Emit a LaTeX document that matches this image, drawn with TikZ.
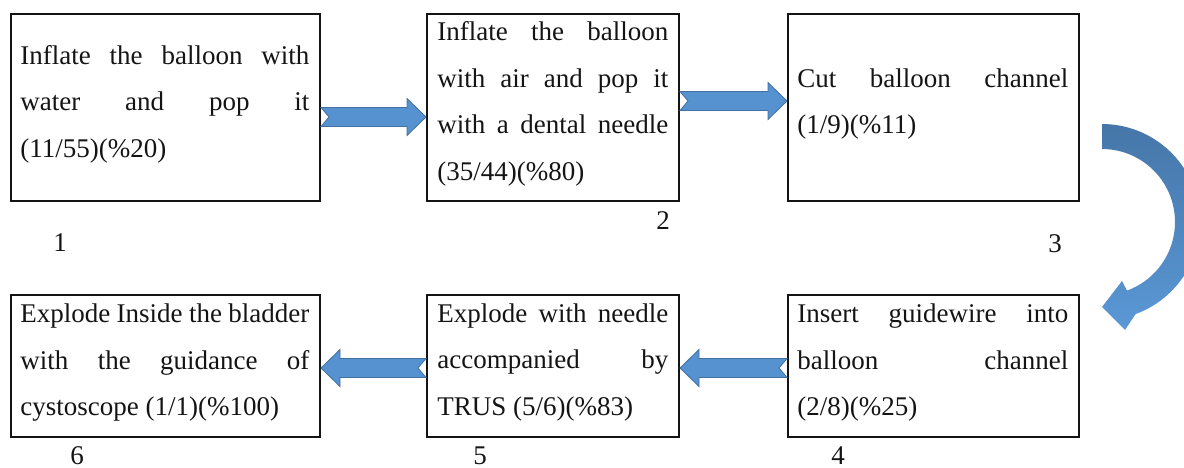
\documentclass[tikz,border=0pt]{standalone}
\usepackage{fontspec}
\setmainfont{Liberation Serif}
\usetikzlibrary{calc}

\definecolor{arrowfill}{RGB}{86,145,208}
\definecolor{arrowline}{RGB}{66,112,160}
\definecolor{curvetop}{RGB}{70,118,168}
\definecolor{curvebottom}{RGB}{90,152,214}
\definecolor{ink}{RGB}{20,20,20}

% one fully justified line of a step description
\newcommand\jline[1]{\makebox[\linewidth][s]{#1}\\}

% horizontal block arrow with a notched tail, from one anchor to another
\newcommand\blockarrow[2]{%
  \draw[flowarrow] let \p1=(#1), \p2=(#2),
      \n1={(\x2-\x1)/abs(\x2-\x1)} in
      (\x1,{\y1+4.75pt}) -- ({\x1+\n1*4pt},\y1) -- (\x1,{\y1-4.75pt})
      -- ({\x2-\n1*9.5pt},{\y1-4.75pt}) -- ({\x2-\n1*9.5pt},{\y1-9.25pt})
      -- (\x2,\y1) -- ({\x2-\n1*9.5pt},{\y1+9.25pt})
      -- ({\x2-\n1*9.5pt},{\y1+4.75pt}) -- cycle;}

\begin{document}
\begin{tikzpicture}[x=0.5pt,y=-0.5pt,
  stepbox/.style={draw=ink, line width=1pt, inner sep=0pt},
  steptext/.style={anchor=base west, inner sep=0pt,
    font=\fontsize{13.5}{23.25}\selectfont, text=ink},
  steplabel/.style={anchor=base, inner sep=0pt,
    font=\fontsize{13.5}{16}\selectfont, text=ink},
  flowarrow/.style={fill=arrowfill, draw=arrowline, line width=0.4pt}]

\useasboundingbox (0,0) rectangle (1184,467);

% step boxes
\node[stepbox, minimum width=154.5pt, minimum height=93.5pt] (b1) at (165.5,107.5) {};
\node[stepbox, minimum width=126pt,   minimum height=93.5pt] (b2) at (553,107.5) {};
\node[stepbox, minimum width=145.5pt, minimum height=93.5pt] (b3) at (933.5,107.5) {};
\node[stepbox, minimum width=145.5pt, minimum height=71pt]   (b4) at (933.5,366) {};
\node[stepbox, minimum width=126pt,   minimum height=71pt]   (b5) at (553,366) {};
\node[stepbox, minimum width=154.5pt, minimum height=71pt]   (b6) at (165.5,366) {};

% step descriptions
\node[steptext] (t1) at (20,64) {\parbox[t]{144.5pt}{%
  \jline{Inflate the balloon with}\jline{water and pop it}(11/55)(\%20)}};
\node[steptext] (t2) at (437,40.5) {\parbox[t]{115.5pt}{%
  \jline{Inflate the balloon}\jline{with air and pop it}\jline{with a dental needle}(35/44)(\%80)}};
\node[steptext] (t3) at (797,87) {\parbox[t]{135.5pt}{%
  \jline{Cut balloon channel}(1/9)(\%11)}};
\node[steptext] (t4) at (797,322.5) {\parbox[t]{135.5pt}{%
  \jline{Insert guidewire into}\jline{balloon channel}(2/8)(\%25)}};
\node[steptext] (t5) at (437,322) {\parbox[t]{115.5pt}{%
  \jline{Explode with needle}\jline{accompanied by}TRUS (5/6)(\%83)}};
\node[steptext] (t6) at (20,322.5) {\parbox[t]{144.5pt}{%
  \jline{Explode Inside the bladder}\jline{with the guidance of}cystoscope (1/1)(\%100)}};

% step numbers
\node[steplabel] (n1) at (60,251) {1};
\node[steplabel] (n2) at (663,229) {2};
\node[steplabel] (n3) at (1055,252) {3};
\node[steplabel] (n4) at (838,464) {4};
\node[steplabel] (n5) at (480,464) {5};
\node[steplabel] (n6) at (77,464) {6};

% straight block arrows between the boxes
\blockarrow{[yshift=-4.75pt]b1.east}{b2.west}
\blockarrow{[yshift=3.25pt]b2.east}{b3.west}
\blockarrow{[yshift=-1pt]b4.west}{b5.east}
\blockarrow{[yshift=-1pt]b5.west}{b6.east}

% curved arrow turning from the top row down to the bottom row
\shade[top color=curvetop, bottom color=curvebottom]
  plot[domain=-90:70, samples=60] ({1102+98*cos(\x)},{222+98*sin(\x)})
  -- (1125,330) -- (1102,307) -- (1122,281)
  -- plot[domain=70:-90, samples=60] ({1102+73*cos(\x)},{222+73*sin(\x)})
  -- cycle;

\end{tikzpicture}
\end{document}
